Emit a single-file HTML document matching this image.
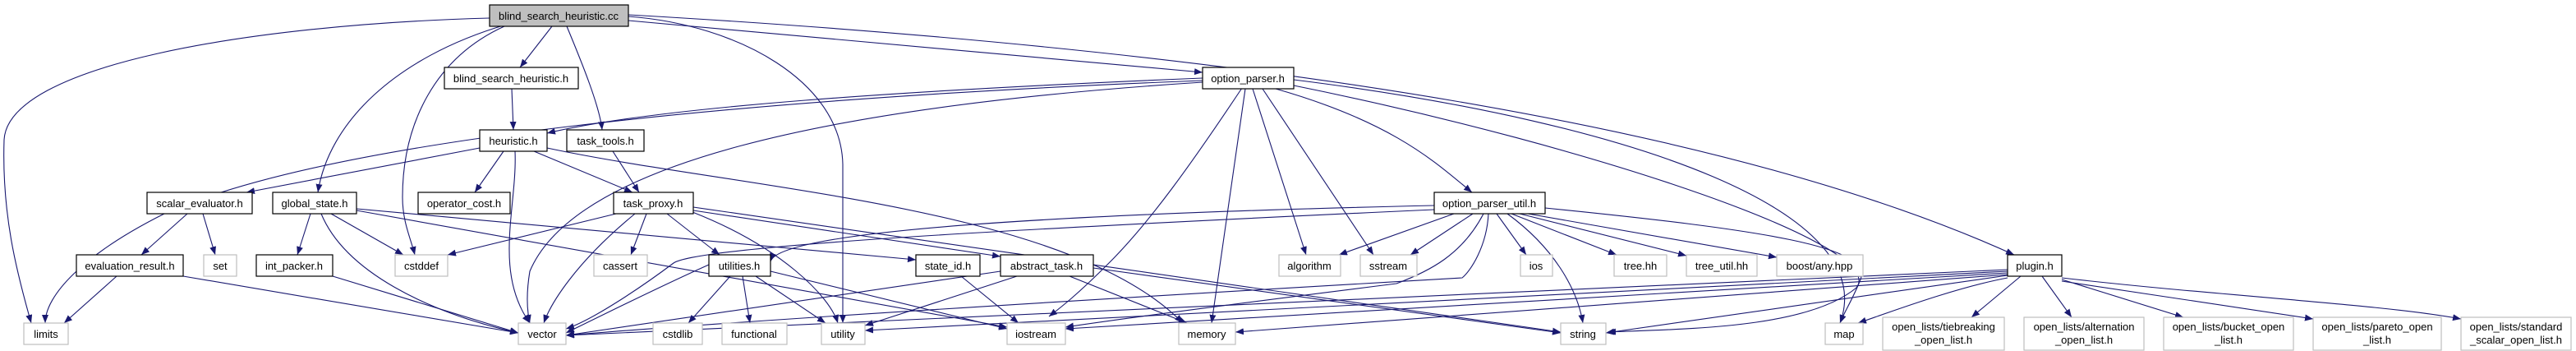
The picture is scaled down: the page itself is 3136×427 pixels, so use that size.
<!DOCTYPE html>
<html><head><meta charset="utf-8"><style>
html,body{margin:0;padding:0;background:#fff;width:3136px;height:427px;overflow:hidden}
svg text{font-family:"Liberation Sans",sans-serif;font-size:13px;fill:#000}
.e{fill:none;stroke:#191970;stroke-width:1.1}
.n{fill:#fff;stroke:#000;stroke-width:1.2}
.g{fill:#fff;stroke:#bfbfbf;stroke-width:1.2}
</style></head><body>
<svg width="3136" height="427" viewBox="0 0 3136 427" xmlns="http://www.w3.org/2000/svg">
<defs><marker id="a" viewBox="0 0 10 8" refX="10" refY="4" markerWidth="10" markerHeight="8" markerUnits="userSpaceOnUse" orient="auto"><path d="M0,0L10,4L0,8z" fill="#191970"/></marker></defs>
<g class="e" marker-end="url(#a)">
<path d="M596,22 C300,30 10,80 5,170 C2,260 20,330 38,393"/>
<path d="M616,30 C480,70 400,150 387,234"/>
<path d="M614,32 C530,70 490,150 490,240 C490,270 500,290 505,310"/>
<path d="M672,32 L633,82"/>
<path d="M690,32 C710,80 730,130 733,158"/>
<path d="M765,20 C900,30 1024,100 1026,200 L1026,393"/>
<path d="M765,25 L1464,88"/>
<path d="M765,18 C1500,60 2100,150 2452,310"/>
<path d="M623,108 L625,158"/>
<path d="M1464,95 C1100,110 800,130 666,162"/>
<path d="M1464,98 C900,120 400,170 200,260 C100,310 55,360 55,393"/>
<path d="M1464,100 C1000,130 700,200 645,330 C640,360 642,380 645,393"/>
<path d="M666,180 C900,230 1300,250 1440,393"/>
<path d="M1512,107 C1450,200 1400,270 1350,320 C1310,360 1290,375 1277,385"/>
<path d="M1516,108 L1475,393"/>
<path d="M1525,108 L1590,310"/>
<path d="M1537,108 L1672,310"/>
<path d="M1553,108 C1700,150 1750,200 1792,234"/>
<path d="M1575,97 C2000,150 2290,260 2240,393"/>
<path d="M1575,104 C1950,180 2300,300 2260,350 C2200,400 2050,400 1957,404"/>
<path d="M584,180 L300,234"/>
<path d="M613,184 L578,234"/>
<path d="M627,184 C630,250 600,330 645,393"/>
<path d="M650,184 L770,234"/>
<path d="M746,184 L778,234"/>
<path d="M228,260 L172,310"/>
<path d="M247,260 L262,310"/>
<path d="M142,336 L78,393"/>
<path d="M223,336 L631,405"/>
<path d="M378,260 L362,310"/>
<path d="M391,260 C420,330 520,380 631,405"/>
<path d="M403,260 L491,310"/>
<path d="M434,254 L1115,316"/>
<path d="M434,256 L1226,398"/>
<path d="M405,336 L631,405"/>
<path d="M750,260 L545,310"/>
<path d="M773,260 C700,320 670,370 662,393"/>
<path d="M787,260 L768,310"/>
<path d="M812,260 L876,310"/>
<path d="M843,258 C950,300 1010,360 1020,393"/>
<path d="M844,256 L1218,312"/>
<path d="M844,252 L1900,404"/>
<path d="M863,322 C800,350 720,390 689,405"/>
<path d="M889,336 L838,393"/>
<path d="M904,336 L913,393"/>
<path d="M920,336 L1005,393"/>
<path d="M938,330 L1226,400"/>
<path d="M1170,336 L1240,393"/>
<path d="M1238,336 L1053,396"/>
<path d="M1302,336 L1445,393"/>
<path d="M1331,326 L1900,405"/>
<path d="M1218,330 L689,408"/>
<path d="M1746,250 C1300,260 950,280 938,318"/>
<path d="M1746,255 C1200,280 850,300 820,320 C780,350 720,390 689,400"/>
<path d="M1770,260 L1630,310"/>
<path d="M1793,260 L1717,310"/>
<path d="M1806,260 C1780,310 1740,330 1700,345 C1500,370 1350,390 1297,398"/>
<path d="M1812,260 C1810,300 1790,330 1780,338 C1400,360 900,390 689,408"/>
<path d="M1822,260 L1858,310"/>
<path d="M1835,260 C1890,300 1920,350 1927,393"/>
<path d="M1840,260 L1968,310"/>
<path d="M1850,260 L2053,311"/>
<path d="M1860,260 L2163,313"/>
<path d="M1881,253 C2150,280 2280,300 2265,340 C2255,365 2245,380 2240,393"/>
<path d="M2444,328 L689,408"/>
<path d="M2444,330 L1053,402"/>
<path d="M2444,332 L1297,400"/>
<path d="M2444,334 L1504,404"/>
<path d="M2444,335 L1955,405"/>
<path d="M2444,338 C2380,350 2300,380 2262,393"/>
<path d="M2460,336 L2400,386"/>
<path d="M2486,336 L2522,386"/>
<path d="M2510,340 L2658,386"/>
<path d="M2510,342 L2816,388"/>
<path d="M2510,338 C2700,360 2900,370 2996,388"/>
</g>
<g text-anchor="middle">
<rect x="596" y="6" width="169" height="26" fill="#bfbfbf" stroke="#000" stroke-width="1.2"/><text x="680" y="24">blind_search_heuristic.cc</text>
<rect class="n" x="541" y="82" width="163" height="26"/><text x="622" y="100">blind_search_heuristic.h</text>
<rect class="n" x="1464" y="82" width="111" height="26"/><text x="1519" y="100">option_parser.h</text>
<rect class="n" x="584" y="158" width="82" height="26"/><text x="625" y="176">heuristic.h</text>
<rect class="n" x="690" y="158" width="94" height="26"/><text x="737" y="176">task_tools.h</text>
<rect class="n" x="179" y="234" width="128" height="26"/><text x="243" y="252">scalar_evaluator.h</text>
<rect class="n" x="332" y="234" width="102" height="26"/><text x="383" y="252">global_state.h</text>
<rect class="n" x="509" y="234" width="112" height="26"/><text x="565" y="252">operator_cost.h</text>
<rect class="n" x="747" y="234" width="97" height="26"/><text x="795" y="252">task_proxy.h</text>
<rect class="n" x="1746" y="234" width="135" height="26"/><text x="1813" y="252">option_parser_util.h</text>
<rect class="n" x="93" y="310" width="130" height="26"/><text x="158" y="328">evaluation_result.h</text>
<rect class="g" x="248" y="310" width="40" height="26"/><text x="268" y="328">set</text>
<rect class="n" x="312" y="310" width="93" height="26"/><text x="358" y="328">int_packer.h</text>
<rect class="g" x="481" y="310" width="64" height="26"/><text x="513" y="328">cstddef</text>
<rect class="g" x="723" y="310" width="65" height="26"/><text x="755" y="328">cassert</text>
<rect class="n" x="863" y="310" width="75" height="26"/><text x="900" y="328">utilities.h</text>
<rect class="n" x="1115" y="310" width="78" height="26"/><text x="1154" y="328">state_id.h</text>
<rect class="n" x="1218" y="310" width="113" height="26"/><text x="1274" y="328">abstract_task.h</text>
<rect class="g" x="1557" y="310" width="75" height="26"/><text x="1594" y="328">algorithm</text>
<rect class="g" x="1656" y="310" width="69" height="26"/><text x="1690" y="328">sstream</text>
<rect class="g" x="1851" y="310" width="39" height="26"/><text x="1870" y="328">ios</text>
<rect class="g" x="1965" y="310" width="64" height="26"/><text x="1997" y="328">tree.hh</text>
<rect class="g" x="2053" y="310" width="86" height="26"/><text x="2096" y="328">tree_util.hh</text>
<rect class="g" x="2163" y="310" width="105" height="26"/><text x="2215" y="328">boost/any.hpp</text>
<rect class="n" x="2444" y="310" width="66" height="26"/><text x="2477" y="328">plugin.h</text>
<rect class="g" x="29" y="393" width="54" height="26"/><text x="56" y="411">limits</text>
<rect class="g" x="631" y="393" width="58" height="26"/><text x="660" y="411">vector</text>
<rect class="g" x="795" y="393" width="60" height="26"/><text x="825" y="411">cstdlib</text>
<rect class="g" x="879" y="393" width="79" height="26"/><text x="918" y="411">functional</text>
<rect class="g" x="1000" y="393" width="53" height="26"/><text x="1026" y="411">utility</text>
<rect class="g" x="1226" y="393" width="71" height="26"/><text x="1261" y="411">iostream</text>
<rect class="g" x="1435" y="393" width="69" height="26"/><text x="1469" y="411">memory</text>
<rect class="g" x="1900" y="393" width="55" height="26"/><text x="1927" y="411">string</text>
<rect class="g" x="2222" y="393" width="46" height="26"/><text x="2245" y="411">map</text>
<rect class="g" x="2292" y="386" width="148" height="40"/><text x="2366" y="402">open_lists/tiebreaking</text><text x="2366" y="418">_open_list.h</text>
<rect class="g" x="2464" y="386" width="146" height="40"/><text x="2537" y="402">open_lists/alternation</text><text x="2537" y="418">_open_list.h</text>
<rect class="g" x="2634" y="386" width="158" height="40"/><text x="2713" y="402">open_lists/bucket_open</text><text x="2713" y="418">_list.h</text>
<rect class="g" x="2816" y="386" width="156" height="40"/><text x="2894" y="402">open_lists/pareto_open</text><text x="2894" y="418">_list.h</text>
<rect class="g" x="2996" y="386" width="134" height="40"/><text x="3063" y="402">open_lists/standard</text><text x="3063" y="418">_scalar_open_list.h</text>
</g>
</svg>
</body></html>
